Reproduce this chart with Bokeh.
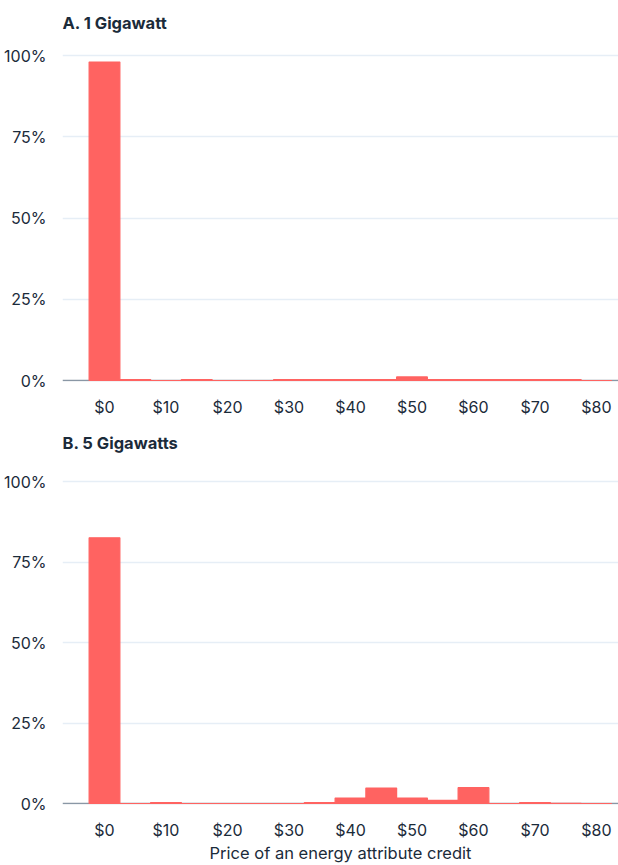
from bokeh.plotting import figure
from bokeh.layouts import column
from bokeh.models import FixedTicker, Span, ColumnDataSource, Range1d, Label
from bokeh.embed import file_html
from bokeh.resources import INLINE

# ---- data ----
bin_centers = [0, 5, 10, 15, 20, 25, 30, 35, 40, 45, 50, 55, 60, 65, 70, 75, 80]
share_1gw = [98.0, 0.3, 0.0, 0.3, 0.0, 0.0, 0.3, 0.3, 0.3, 0.3, 1.1, 0.3, 0.3, 0.3, 0.3, 0.3, 0.0]
share_5gw = [82.5, 0.0, 0.3, 0.0, 0.0, 0.0, 0.0, 0.3, 1.7, 4.8, 1.7, 1.0, 4.9, 0.0, 0.3, 0.08, 0.0]
bin_width = 5

x_ticks = [0, 10, 20, 30, 40, 50, 60, 70, 80]
x_tick_labels = ["$0", "$10", "$20", "$30", "$40", "$50", "$60", "$70", "$80"]
y_ticks = [0, 25, 50, 75, 100]
y_tick_labels = ["0%", "25%", "50%", "75%", "100%"]

titles = ["A. 1 Gigawatt", "B. 5 Gigawatts"]
x_axis_label = "Price of an energy attribute credit"

# ---- style ----
FONT = "Inter"
TEXT = "#1b2b3a"
BAR = "#ff6361"
GRID = "#e6eef6"
AXIS = "#8a97a5"


def make_panel(title, values, height, bottom_border, y_top_px, y_zero_px, show_xlabel):
    # frame runs from the top of the figure to (height - bottom_border);
    # choose the y-range so that 100% and 0% land on the wanted pixel rows
    frame_h = height - bottom_border
    k = (y_zero_px - y_top_px) / 100.0
    y_end = 100 + y_top_px / k
    y_start = -(frame_h - y_zero_px) / k

    p = figure(width=618, height=height, output_backend="svg", toolbar_location=None,
               x_range=Range1d(-6.83, 83.58), y_range=Range1d(y_start, y_end),
               min_border_left=62, min_border_right=0,
               min_border_top=0, min_border_bottom=bottom_border)
    p.outline_line_color = None
    p.background_fill_color = "white"
    p.border_fill_color = "white"

    p.add_layout(Label(x=0, x_units="screen", y=y_end, y_offset=-22,
                       text=title, text_font=FONT, text_font_style="bold",
                       text_font_size="16.5px", text_color=TEXT,
                       text_align="left", text_baseline="alphabetic"))

    axis0 = Span(location=0, dimension="width", line_color=AXIS, line_width=1.5, level="underlay")
    p.add_layout(axis0)

    src = ColumnDataSource(dict(x=bin_centers, top=values))
    p.vbar(x="x", top="top", bottom=0, width=bin_width, source=src,
           fill_color=BAR, line_color=BAR, line_width=1.2)

    # y axis
    p.yaxis.ticker = FixedTicker(ticks=y_ticks)
    p.yaxis.major_label_overrides = {t: l for t, l in zip(y_ticks, y_tick_labels)}
    p.yaxis.axis_line_color = None
    p.yaxis.major_tick_line_color = None
    p.yaxis.minor_tick_line_color = None
    p.yaxis.major_label_standoff = 10
    p.yaxis.major_label_text_font = FONT
    p.yaxis.major_label_text_font_size = "16px"
    p.yaxis.major_label_text_color = TEXT

    # x axis
    p.xaxis.ticker = FixedTicker(ticks=x_ticks)
    p.xaxis.major_label_overrides = {t: l for t, l in zip(x_ticks, x_tick_labels)}
    p.xaxis.axis_line_color = None
    p.xaxis.major_tick_line_color = None
    p.xaxis.minor_tick_line_color = None
    p.xaxis.major_tick_out = 0
    p.xaxis.major_label_standoff = 15
    p.xaxis.major_label_text_font = FONT
    p.xaxis.major_label_text_font_size = "16px"
    p.xaxis.major_label_text_color = TEXT
    if show_xlabel:
        p.xaxis.axis_label = x_axis_label
        p.xaxis.axis_label_text_font = FONT
        p.xaxis.axis_label_text_font_size = "16.5px"
        p.xaxis.axis_label_text_font_style = "normal"
        p.xaxis.axis_label_text_color = TEXT
        p.xaxis.axis_label_standoff = 0

    p.xgrid.grid_line_color = None
    p.ygrid.ticker = FixedTicker(ticks=y_ticks[1:])
    p.ygrid.grid_line_color = GRID
    p.ygrid.grid_line_width = 1.5
    return p


pa = make_panel(titles[0], share_1gw, 420, 39, 55, 380, False)
pb = make_panel(titles[1], share_5gw, 445, 61, 61, 383, True)

layout = column(pa, pb, spacing=0)
open("out.html", "w").write(file_html(layout, INLINE))
